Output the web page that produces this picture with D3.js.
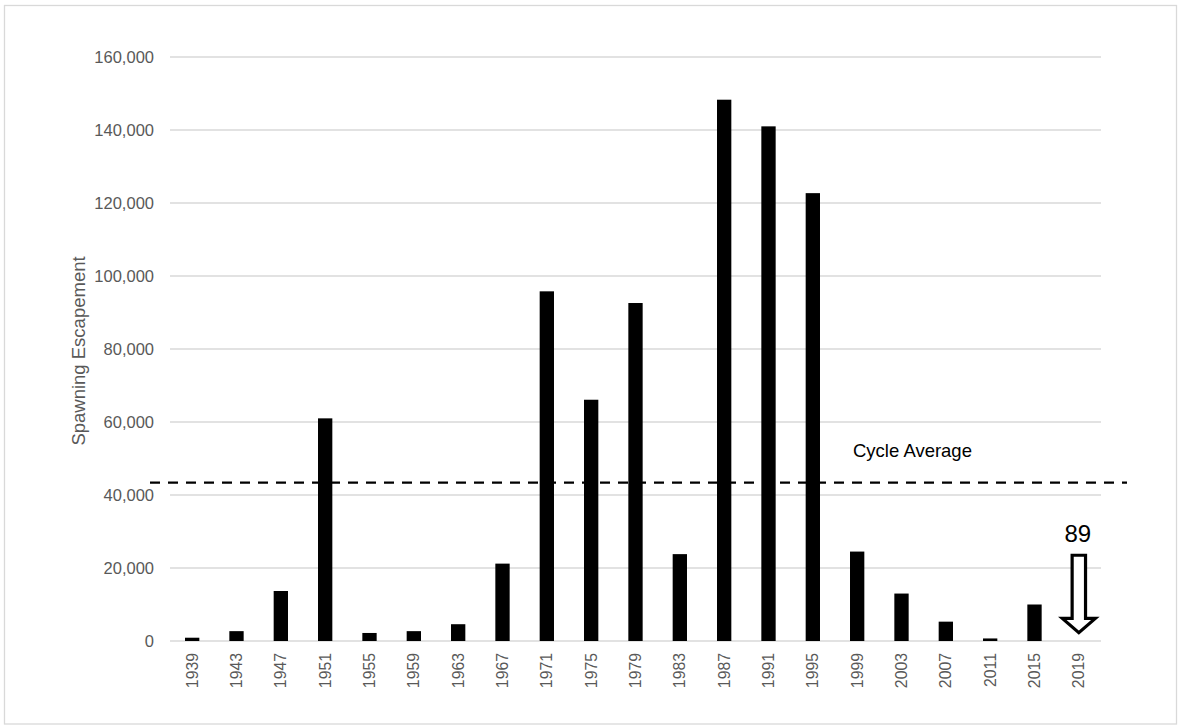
<!DOCTYPE html>
<html>
<head>
<meta charset="utf-8">
<script src="https://cdn.jsdelivr.net/npm/d3@7"></script>
<style>
  html, body { margin: 0; padding: 0; background: #fff; }
  svg { display: block; font-family: "Liberation Sans", Arial, sans-serif; }
</style>
</head>
<body>
<svg id="chart" width="1182" height="726"></svg>
<script>
// ---- data ----
const years = ["1939","1943","1947","1951","1955","1959","1963","1967","1971","1975",
               "1979","1983","1987","1991","1995","1999","2003","2007","2011","2015","2019"];
const escapement = [900, 2700, 13700, 61000, 2200, 2700, 4600, 21200, 95800, 66100,
                    92600, 23800, 148300, 141000, 122700, 24500, 13000, 5300, 700, 10000, 89];
const yTicks = [0, 20000, 40000, 60000, 80000, 100000, 120000, 140000, 160000];
const cycleAverage = 43400;
const annotationYear = "2019";
const annotationLabel = "89";
const yTitle = "Spawning Escapement";
const avgLabel = "Cycle Average";

// ---- layout ----
const W = 1182, H = 726;
const m = { left: 170, right: 81, top: 57, bottom: 85 };
const svg = d3.select("#chart");

// outer border
svg.append("rect")
  .attr("x", 4.5).attr("y", 5.5)
  .attr("width", 1172).attr("height", 718.5)
  .attr("fill", "#fff").attr("stroke", "#d9d9d9").attr("stroke-width", 1.3);

const x = d3.scaleBand()
  .domain(years)
  .range([m.left, W - m.right])
  .paddingInner(0.677)
  .paddingOuter(0.677 / 2);

const y = d3.scaleLinear()
  .domain([0, 160000])
  .range([H - m.bottom, m.top]);

// gridlines
svg.append("g")
  .selectAll("line")
  .data(yTicks)
  .join("line")
  .attr("x1", m.left).attr("x2", W - m.right)
  .attr("y1", d => y(d)).attr("y2", d => y(d))
  .attr("stroke", "#d9d9d9").attr("stroke-width", 1.5);

// y axis labels
const yAxis = d3.axisLeft(y)
  .tickValues(yTicks)
  .tickFormat(d3.format(","))
  .tickSize(0)
  .tickPadding(16);
const yg = svg.append("g").attr("transform", `translate(${m.left},0)`).call(yAxis);
yg.select(".domain").remove();
yg.selectAll("text")
  .attr("fill", "#595959")
  .style("font-size", "16.5px")
  .style("font-family", "'Liberation Sans', Arial, sans-serif");

// x axis labels
const xAxis = d3.axisBottom(x).tickSize(0).tickPadding(0);
const xg = svg.append("g").attr("transform", `translate(0,${H - m.bottom})`).call(xAxis);
xg.select(".domain").remove();
xg.selectAll("text")
  .attr("fill", "#595959")
  .style("font-size", "15.8px")
  .style("font-family", "'Liberation Sans', Arial, sans-serif")
  .attr("text-anchor", "end")
  .attr("dy", null)
  .attr("y", 0)
  .attr("transform", "translate(5.5,12) rotate(-90)");

// bars
svg.append("g")
  .selectAll("rect")
  .data(years.map((yr, i) => ({ yr, v: escapement[i] })).filter(d => d.yr !== annotationYear))
  .join("rect")
  .attr("x", d => x(d.yr))
  .attr("width", x.bandwidth())
  .attr("y", d => y(d.v))
  .attr("height", d => y(0) - y(d.v))
  .attr("fill", "#000");

// cycle average dashed line
svg.append("line")
  .attr("x1", m.left - 20).attr("x2", W - m.right + 26)
  .attr("y1", y(cycleAverage)).attr("y2", y(cycleAverage))
  .attr("stroke", "#000").attr("stroke-width", 2.2)
  .attr("stroke-dasharray", "10,8");

svg.append("text")
  .attr("x", 853).attr("y", y(cycleAverage) - 26)
  .attr("fill", "#000")
  .style("font-size", "18.5px")
  .text(avgLabel);

// y axis title
svg.append("text")
  .attr("transform", `translate(85,${(y(0) + y(160000)) / 2 + 2}) rotate(-90)`)
  .attr("text-anchor", "middle")
  .attr("fill", "#595959")
  .style("font-size", "18.5px")
  .text(yTitle);

// annotation arrow for 2019
const cx = x(annotationYear) + x.bandwidth() / 2;
const shaftTop = y(23500), headBase = y(6200), tip = y(2300);
const sw = 6.7, hw = 16.5;
const arrowPath = d3.path();
arrowPath.moveTo(cx - sw, shaftTop);
arrowPath.lineTo(cx + sw, shaftTop);
arrowPath.lineTo(cx + sw, headBase);
arrowPath.lineTo(cx + hw, headBase);
arrowPath.lineTo(cx, tip);
arrowPath.lineTo(cx - hw, headBase);
arrowPath.lineTo(cx - sw, headBase);
arrowPath.closePath();
svg.append("path")
  .attr("d", arrowPath.toString())
  .attr("fill", "#fff")
  .attr("stroke", "#000")
  .attr("stroke-width", 3.2)
  .attr("stroke-linejoin", "miter");

svg.append("text")
  .attr("x", cx - 1).attr("y", shaftTop - 13)
  .attr("text-anchor", "middle")
  .attr("fill", "#000")
  .style("font-size", "24px")
  .text(annotationLabel);
</script>
</body>
</html>
